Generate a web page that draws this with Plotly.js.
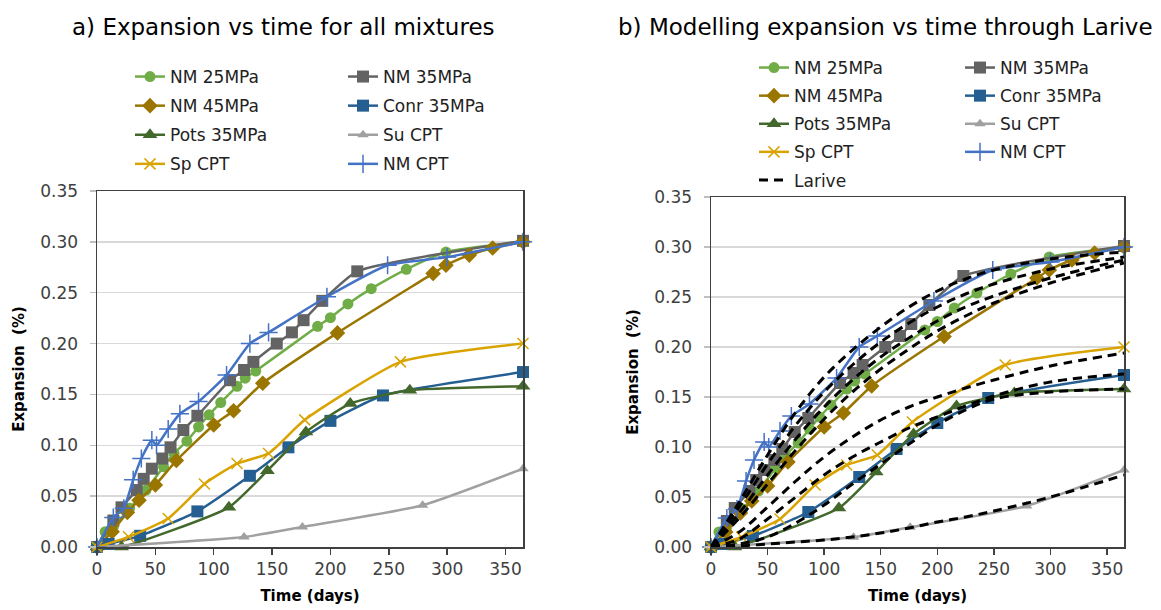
<!DOCTYPE html>
<html>
<head>
<meta charset="utf-8">
<script src="https://cdn.plot.ly/plotly-3.0.1.min.js"></script>
<style>
html,body{margin:0;padding:0;background:#fff;}
#chart{width:1161px;height:610px;}
</style>
</head>
<body>
<div id="chart"></div>
<script>
// ---------- data ----------
const seriesNames = ["NM 25MPa","NM 35MPa","NM 45MPa","Conr 35MPa","Pots 35MPa","Su CPT","Sp CPT","NM CPT"];

const nm25Days = [0, 7, 14, 28, 42, 57, 66, 77, 87, 96, 106, 120, 127, 136, 189, 200, 215, 235, 265, 299, 365];
const nm25Exp  = [0, 0.015, 0.020, 0.038, 0.056, 0.079, 0.092, 0.104, 0.118, 0.130, 0.142, 0.158, 0.166, 0.173, 0.217, 0.2255, 0.239, 0.254, 0.273, 0.290, 0.300];

const nm35Days = [0, 14, 21, 34, 40, 47, 56, 63, 74, 86, 114, 126, 134, 154, 167, 177, 193, 223, 365];
const nm35Exp  = [0, 0.026, 0.039, 0.056, 0.067, 0.077, 0.087, 0.098, 0.115, 0.129, 0.164, 0.174, 0.182, 0.200, 0.211, 0.223, 0.242, 0.271, 0.301];

const nm45Days = [0, 13, 26, 36, 50, 68, 100, 117, 142, 206, 288, 299, 319, 339, 365];
const nm45Exp  = [0, 0.015, 0.034, 0.046, 0.061, 0.085, 0.120, 0.134, 0.161, 0.2105, 0.269, 0.277, 0.287, 0.294, 0.300];

const conrDays = [0, 10, 37, 86, 131, 164, 200, 245, 365];
const conrExp  = [0, 0.003, 0.011, 0.035, 0.070, 0.098, 0.124, 0.149, 0.172];

const potsDays = [0, 21, 113, 146, 179, 217, 268, 365];
const potsExp  = [0, 0.000, 0.039, 0.075, 0.113, 0.141, 0.154, 0.158];

const suDays = [0, 126, 176, 279, 365];
const suExp  = [0, 0.0098, 0.0197, 0.041, 0.077];

const spDays = [0, 27, 61, 92, 120, 147, 178, 260, 365];
const spExp  = [0, 0.010, 0.028, 0.062, 0.082, 0.092, 0.125, 0.182, 0.200];

const nmcptDays = [0, 14, 23, 31, 38, 47, 51, 61, 71, 87, 111, 131, 147, 197, 249, 300, 365];
const nmcptExp  = [0, 0.029, 0.038, 0.066, 0.087, 0.105, 0.100, 0.116, 0.131, 0.143, 0.169, 0.200, 0.211, 0.246, 0.277, 0.285, 0.300];

// Larive model curves
const lariveDays  = [0, 25, 50, 75, 100, 125, 150, 175, 200, 225, 250, 300, 365];
const lariveNm25  = [0, 0.034, 0.072, 0.108, 0.140, 0.167, 0.190, 0.209, 0.226, 0.240, 0.251, 0.269, 0.287];
const lariveNm35  = [0, 0.040, 0.083, 0.122, 0.155, 0.182, 0.205, 0.224, 0.240, 0.253, 0.263, 0.278, 0.290];
const lariveNm45  = [0, 0.029, 0.063, 0.097, 0.128, 0.155, 0.178, 0.198, 0.216, 0.231, 0.244, 0.264, 0.284];
const lariveConr  = [0, 0.008, 0.028, 0.050, 0.072, 0.090, 0.105, 0.119, 0.130, 0.141, 0.151, 0.165, 0.173];
const larivePots  = [0, 0.003, 0.010, 0.024, 0.042, 0.063, 0.083, 0.103, 0.122, 0.137, 0.148, 0.155, 0.158];
const lariveSu    = [0, 0.001, 0.003, 0.005, 0.007, 0.010, 0.014, 0.019, 0.025, 0.030, 0.036, 0.050, 0.072];
const lariveSp    = [0, 0.015, 0.040, 0.066, 0.090, 0.110, 0.127, 0.140, 0.150, 0.159, 0.167, 0.181, 0.194];
const lariveNmcpt = [0, 0.045, 0.092, 0.135, 0.170, 0.197, 0.220, 0.240, 0.256, 0.268, 0.277, 0.288, 0.295];

const xTicks = [0, 50, 100, 150, 200, 250, 300, 350];
const yTicks = [0, 0.05, 0.10, 0.15, 0.20, 0.25, 0.30, 0.35];

// ---------- styles ----------
const seriesData = [
  [nm25Days, nm25Exp], [nm35Days, nm35Exp], [nm45Days, nm45Exp], [conrDays, conrExp],
  [potsDays, potsExp], [suDays, suExp], [spDays, spExp], [nmcptDays, nmcptExp]
];
const lariveData = [lariveNm25, lariveNm35, lariveNm45, lariveConr, larivePots, lariveSu, lariveSp, lariveNmcpt];

const styles = [
  {color:'#70AD47', symbol:'circle', size:11},
  {color:'#636363', symbol:'square', size:12},
  {color:'#9A7500', symbol:'diamond', size:12},
  {color:'#255E91', symbol:'square', size:12},
  {color:'#43682B', symbol:'triangle-up', size:13},
  {color:'#A0A0A0', symbol:'triangle-up', size:10},
  {color:'#D9A300', symbol:'x-thin-open', size:11},
  {color:'#4472C4', symbol:'cross-thin-open', size:13}
];
// column 1 legend: 0,2,4,6 ; column 2 legend: 1,3,5,7
const colOf = [0,1,0,1,0,1,0,1];

const traces = [];
[['x','y','legend','legend2','a'],['x2','y2','legend3','legend4','b']].forEach(function(p){
  seriesData.forEach(function(sd, i){
    const st = styles[i];
    const thin = st.symbol.indexOf('thin') >= 0;
    traces.push({
      type:'scatter', mode:'lines+markers', name: seriesNames[i],
      x: sd[0], y: sd[1], xaxis: p[0], yaxis: p[1],
      legend: colOf[i] === 0 ? p[2] : p[3],
      legendgroup: p[4] + i,
      line: {color: st.color, width: 2.5, shape:'spline', smoothing:0.5},
      marker: thin ? {symbol: st.symbol, size: st.size, color: st.color, line:{color: st.color, width:1.5}}
                   : {symbol: st.symbol, size: st.size, color: st.color, line:{width:0}},
      cliponaxis: false
    });
  });
});
lariveData.forEach(function(v, i){
  traces.push({
    type:'scatter', mode:'lines', name:'Larive',
    x: lariveDays, y: v, xaxis:'x2', yaxis:'y2',
    legend:'legend3', legendgroup:'larive', showlegend: i === 0,
    line:{color:'#000000', width:3, dash:'9px,6px', shape:'spline', smoothing:1},
    cliponaxis:false
  });
});

const tickFont = {family:'DejaVu Sans', size:17, color:'#404040'};
const axTitleFont = {family:'DejaVu Sans', size:15, color:'#000000', weight:'bold'};
function xAxis(domain, anchor){
  return {domain: domain, anchor: anchor, range:[0,365], tickvals: xTicks, ticktext: xTicks.map(String),
    showgrid:false, zeroline:false, showline:true, mirror:true, linecolor:'#404040', linewidth:1.5,
    ticks:'outside', ticklen:6, tickcolor:'#404040', tickwidth:1.5, tickfont: tickFont,
    title:{text:'<b>Time (days)</b>', font: axTitleFont, standoff: 12}};
}
function yAxis(domain, anchor){
  return {domain: domain, anchor: anchor, range:[0,0.35], tickvals: yTicks, tickformat:'.2f',
    showgrid:true, gridcolor:'#D9D9D9', gridwidth:1.5, zeroline:false, showline:true, mirror:true,
    linecolor:'#404040', linewidth:1.5, ticks:'outside', ticklen:6, tickcolor:'#BFBFBF', tickwidth:1.5,
    ticklabelstandoff: 8,
    tickfont: tickFont, title:{text:'<b>Expansion  (%)</b>', font: axTitleFont, standoff: 12}};
}
const legendBase = {orientation:'v', xanchor:'left', yanchor:'top', bgcolor:'rgba(0,0,0,0)',
  font:{family:'DejaVu Sans', size:17, color:'#222'}, itemclick:false};
function lg(x, y, gap){ return Object.assign({}, legendBase, {x:x, y:y, tracegroupgap:gap}); }

const layout = {
  width:1161, height:610, paper_bgcolor:'#fff', plot_bgcolor:'#fff',
  margin:{l:0, r:0, t:0, b:0},
  font:{family:'DejaVu Sans'},
  xaxis: xAxis([97/1161, 523/1161], 'y'),
  yaxis: yAxis([1-547/610, 1-191/610], 'x'),
  xaxis2: xAxis([711/1161, 1124/1161], 'y2'),
  yaxis2: yAxis([1-547/610, 1-197/610], 'x2'),
  legend: lg(130/1161, 1-59/610, 4),
  legend2: lg(343/1161, 1-59/610, 4),
  legend3: lg(754/1161, 1-50/610, 3),
  legend4: lg(960/1161, 1-50/610, 3),
  annotations:[
    {text:'a) Expansion vs time for all mixtures', xref:'paper', yref:'paper', x:283/1161, y:1-27/610,
     xanchor:'center', yanchor:'middle', showarrow:false, font:{family:'DejaVu Sans', size:23, color:'#000'}},
    {text:'b) Modelling expansion vs time through Larive', xref:'paper', yref:'paper', x:885/1161, y:1-27/610,
     xanchor:'center', yanchor:'middle', showarrow:false, font:{family:'DejaVu Sans', size:23, color:'#000'}}
  ],
  showlegend:true
};

Plotly.newPlot('chart', traces, layout, {staticPlot:true, displayModeBar:false});
</script>
</body>
</html>
